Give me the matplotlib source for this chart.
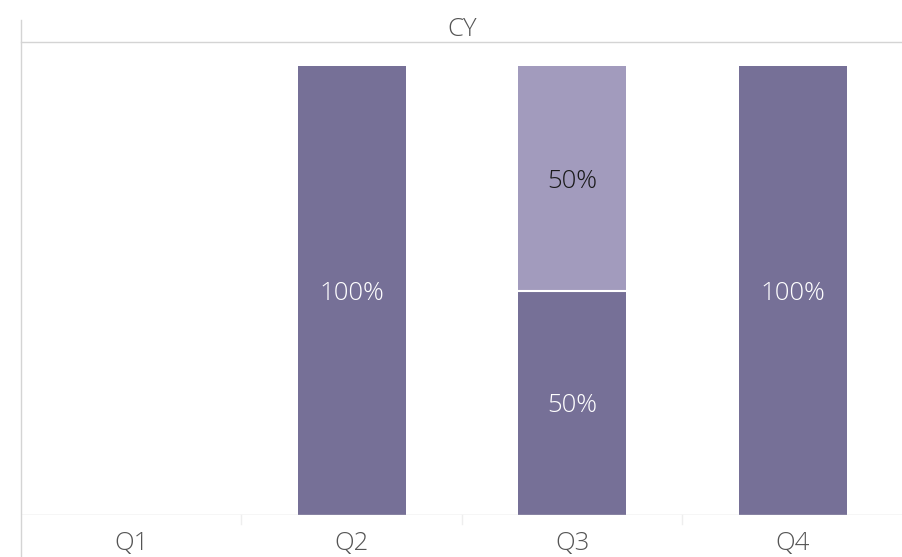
import numpy as np
import matplotlib.pyplot as plt
from matplotlib.lines import Line2D

# data
quarters = ["Q1", "Q2", "Q3", "Q4"]
dark_share = [0.0, 1.0, 0.5, 1.0]
light_share = [0.0, 0.0, 0.5, 0.0]
header = "CY"

dark = "#767097"
light = "#a29bbd"
grid = "#d4d4d4"

plt.rcParams['font.family'] = ['Open Sans', 'DejaVu Sans']
FW = "light"
FS = 18.5

W, H = 903, 557
fig = plt.figure(figsize=(W / 100, H / 100), dpi=100)
ax = fig.add_axes([21 / W, (H - 515) / H, 1 - 21 / W, (515 - 42) / H])

x = np.arange(len(quarters))
ax.bar(x, dark_share, width=0.49, color=dark, zorder=2)
ax.bar(x, light_share, width=0.49, bottom=dark_share, color=light, zorder=2)
# thin white line where the two parts meet
for i in range(len(quarters)):
    if dark_share[i] > 0 and light_share[i] > 0:
        ax.plot([x[i] - 0.245, x[i] + 0.245], [dark_share[i]] * 2,
                color="white", linewidth=1.5, zorder=3)

for i in range(len(quarters)):
    d, l = dark_share[i], light_share[i]
    if d > 0:
        ax.text(x[i], d / 2, f"{d:.0%}", ha="center", va="center_baseline",
                color="white", fontsize=FS, fontweight=FW)
    if l > 0:
        ax.text(x[i], d + l / 2, f"{l:.0%}", ha="center", va="center_baseline",
                color="#1a1a1a", fontsize=FS, fontweight=FW)

ax.set_xlim(-0.5, len(quarters) - 0.5)
ax.set_ylim(0, (515 - 42) / 449)
ax.set_yticks([])
ax.set_xticks([])
for s in ["left", "right", "bottom"]:
    ax.spines[s].set_visible(False)
ax.spines["top"].set_color(grid)
ax.spines["top"].set_linewidth(1)
ax.axhline(0, color=grid, linewidth=1, zorder=3)

# quarter labels and small separators below baseline
for i, q in enumerate(quarters):
    fig.text((21 + 220.5 * (i + 0.5)) / W, 1 - 540 / H, q, ha="center",
             va="center_baseline", fontsize=FS, fontweight=FW, color="#555555")
for i in range(1, len(quarters)):
    xf = (21 + 220.5 * i) / W
    fig.add_artist(Line2D([xf, xf], [1 - 515 / H, 1 - 524 / H],
                          color="#eeeeee", linewidth=1))

fig.add_artist(Line2D([21 / W, 21 / W], [0, 1 - 20 / H], color=grid, linewidth=1))
fig.text((21 + 903) / 2 / W, 1 - 26 / H, header, ha="center",
         va="center_baseline", fontsize=FS, fontweight=FW, color="#555555")

fig.savefig("out.png", dpi=100, facecolor="white")
